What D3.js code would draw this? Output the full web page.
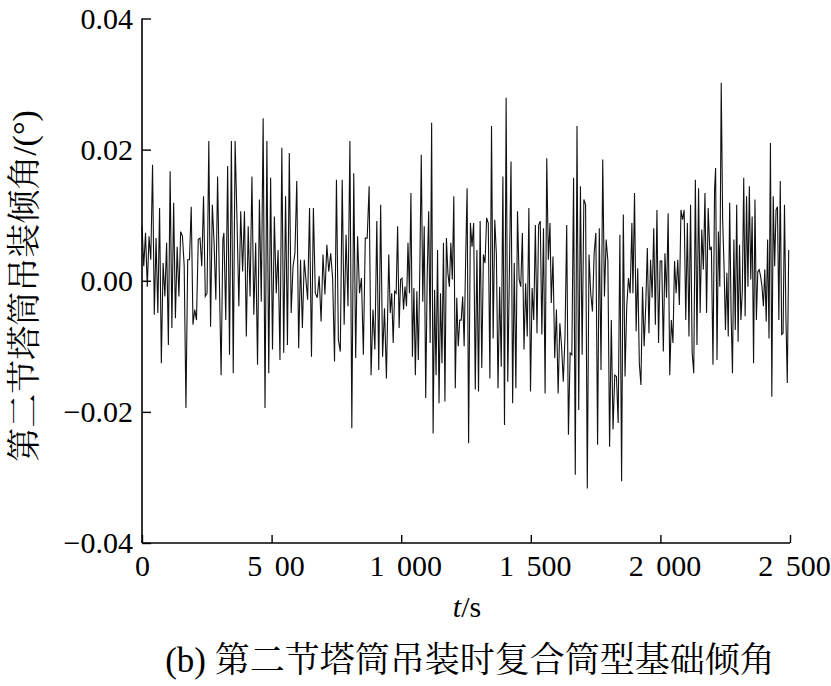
<!DOCTYPE html>
<html><head><meta charset="utf-8">
<script src="https://cdn.jsdelivr.net/npm/d3@7"></script>
<style>
body{margin:0;background:#fff}
text{font-family:"Liberation Serif","Noto Serif CJK SC","Noto Sans CJK SC",serif;fill:#000}
</style>
</head><body>
<svg id="c" width="831" height="686"></svg>
<script>
// ---- data ----
const xTicks = [0, 500, 1000, 1500, 2000, 2500];
const xTickLabels = ["0", "5 00", "1 000", "1 500", "2 000", "2 500"];
const yTicks = [-0.04, -0.02, 0, 0.02, 0.04];
const yTickLabels = ["\u22120.04", "\u22120.02", "0.00", "0.02", "0.04"];
// time span (s) covered by each read-off segment
const segSpan = [[0,312],[316,626],[639,943],[952,1260],[1267,1574],[1579,1890],[1894,2209],[2213,2495]];
// angle values, unit 1e-3 degree
const seg1 = [8.3,2.2,7.3,-0.9,6.8,3.2,17.7,-5.2,6.5,-4.9,11.1,-12.6,2.7,-2.4,5.8,-9.8,16.7,-7.2,11.9,-5.7,5.2,-2.4,7.5,6.8,2.2,-19.4,3.2,3.2,11.3,-6.7,-4.4,-6.0,6.3,6.5,2.2,12.9,-2.4,-1.9,21.3,-7.0,11.6,5.8,-2.9,15.9,0.2,-14.4,6.3];
const seg2 = [7.3,-6.0,17.5,-11.3,21.3,-14.1,21.3,9.3,-3.9,10.6,1.4,10.6,-8.5,8.3,-2.4,15.9,-5.2,5.8,-12.8,12.4,-3.2,24.8,-19.4,21.3,-14.1,15.7,-10.5,9.8,-1.9,4.7,-12.1,20.3,-11.0,12.9,-9.8,19.5,-4.9,2.2,4.2,15.2,-10.3,3.2,-7.2,3.2];
const seg3 = [-2.9,11.1,-11.6,11.1,-1.9,-2.6,0.7,-6.2,4.0,-2.1,5.5,1.4,4.2,0.4,-12.3,15.4,-9.0,-10.8,15.4,-6.7,7.0,-3.9,21.3,-22.5,16.4,-11.8,6.8,-1.9,0.4,-11.3,6.5,6.5,14.4,-14.4,-4.4,-10.5,9.1,-13.6,11.6,-11.6,-4.2,-14.9];
const seg4 = [4.0,-4.9,-1.9,-9.5,-1.6,-1.9,8.3,-7.2,0.2,0.4,-4.4,-0.9,-3.9,5.8,-1.9,13.4,-11.6,-1.1,-14.4,-1.6,-12.1,1.7,19.2,-3.2,8.3,-17.9,0.7,10.6,-9.5,24.1,-23.3,-1.4,-14.4,4.7,-18.7,-1.9,-12.6,5.8,-18.4,6.5,1.2,-0.9,5.8,0.2,12.9,-16.4,-2.6,-10.0,-6.0,-6.0,-2.4,-10.0,3.2,14.1,-24.8];
const seg5 = [8.8,5.2,8.8,-16.6,4.7,-16.9,9.1,-13.3,4.0,2.7,9.6,8.8,-14.9,23.6,-8.8,9.3,4.0,-16.4,-0.9,-13.1,15.9,-22.0,27.9,-15.4,1.2,18.2,-18.7,2.7,-16.4,10.6,0.2,-0.9,7.3,-10.5,-0.4,-8.5,11.1,-16.9,-1.1,-6.0,8.5,-8.0,8.5,9.1,-8.2,8.0,-17.2,18.7,3.2,8.8];
const seg6 = [-3.4,3.7,-11.8,-4.4,-17.2,-6.5,-10.0,-15.4,-8.5,8.5,-23.5,-11.0,-11.3,15.7,-29.6,23.6,-19.7,14.4,-11.3,12.4,11.6,-31.7,4.0,-1.9,-4.7,4.2,7.3,-25.0,8.0,-13.6,18.5,-2.4,6.3,3.0,-25.3,-6.0,-22.7,-14.4,-14.6,-21.7,7.0,-30.6,10.1,-14.6,-3.9,0.4,-1.9,8.8];
const seg7 = [-1.9,13.4,-7.7,1.9,-12.6,-15.9,-0.9,-10.0,-3.9,5.0,-8.0,3.2,-2.6,8.0,-6.7,10.8,-9.5,3.0,3.0,-10.8,4.2,-2.6,10.3,-14.4,-6.0,-9.5,3.0,-1.9,3.2,-3.7,10.8,9.3,10.8,-6.0,8.8,-8.5,11.6,-11.0,-14.1,15.4,-9.8,14.1,-4.9,7.8,1.7,13.4,-4.9,11.1,4.7,5.2,-12.8,13.9];
const seg8 = [17.2,-12.1,7.5,-0.9,30.2,9.3,2.2,-7.5,1.2,-8.5,11.9,-4.9,-14.1,6.3,-7.5,11.6,-9.3,5.5,-6.0,-1.6,15.7,-5.4,12.9,-0.9,14.4,0.2,9.8,-12.6,12.4,-6.0,1.4,1.7,0.7,-0.9,-3.9,1.7,-6.2,6.3,-8.8,21.0,-17.7,12.9,2.2,10.8,11.3,-6.0,15.2,-8.2,-8.0,11.6,-5.4,-15.6,4.7];
const segments = [seg1, seg2, seg3, seg4, seg5, seg6, seg7, seg8];

const data = [];
segments.forEach((seg, k) => {
  const [t0, t1] = segSpan[k];
  seg.forEach((v, i) => data.push({t: t0 + i * (t1 - t0) / (seg.length - 1), v: v / 1000}));
});

// ---- chart ----
const svg = d3.select("#c");
const x = d3.scaleLinear().domain([0, 2500]).range([142, 790]);
const y = d3.scaleLinear().domain([-0.04, 0.04]).range([543, 18.5]);

// line
svg.append("path")
  .datum(data)
  .attr("fill", "none")
  .attr("stroke", "#111")
  .attr("stroke-width", 1.1)
  .attr("d", d3.line().x(d => x(d.t)).y(d => y(d.v)));

// y axis
const yAxis = d3.axisLeft(y).tickValues(yTicks).tickSize(-9).tickFormat((d, i) => yTickLabels[i]);
const gy = svg.append("g").attr("transform", `translate(${x(0)},0)`).call(yAxis);
gy.select(".domain").attr("d", `M0,${y(0.04)}V${y(-0.04)}`).attr("stroke", "#000").attr("stroke-width", 1.6);
gy.selectAll(".tick line").attr("stroke", "#000").attr("stroke-width", 1.4);
gy.selectAll(".tick text").attr("x", -9).attr("dy", "0.33em")
  .style("font-size", "30px").style("font-family", "Liberation Serif");

// x axis
const xAxis = d3.axisBottom(x).tickValues(xTicks).tickSize(-8).tickFormat((d, i) => xTickLabels[i]);
const gx = svg.append("g").attr("transform", `translate(0,${y(-0.04)})`).call(xAxis);
gx.select(".domain").attr("d", `M${x(0)},0H${x(2500)}`).attr("stroke", "#000").attr("stroke-width", 1.6);
gx.selectAll(".tick line").attr("stroke", "#000").attr("stroke-width", 1.4);
gx.selectAll(".tick text").attr("y", 12).attr("dy", "0.71em")
  .attr("x", d => d > 0 ? 4 : 0)
  .style("font-size", "30px").style("font-family", "Liberation Serif")
  .style("white-space", "pre").style("word-spacing", "5px");

// axis titles
svg.append("text")
  .attr("transform", `translate(36,286) rotate(-90)`)
  .attr("text-anchor", "middle")
  .style("font-size", "34px")
  .text("第二节塔筒吊装倾角/(°)");

const xt = svg.append("text")
  .attr("x", 467).attr("y", 617)
  .attr("text-anchor", "middle")
  .style("font-size", "30px");
xt.append("tspan").style("font-style", "italic").text("t");
xt.append("tspan").text("/s");

svg.append("text")
  .attr("x", 470).attr("y", 672)
  .attr("text-anchor", "middle")
  .style("font-size", "35px")
  .text("(b) 第二节塔筒吊装时复合筒型基础倾角");
</script>
</body></html>
